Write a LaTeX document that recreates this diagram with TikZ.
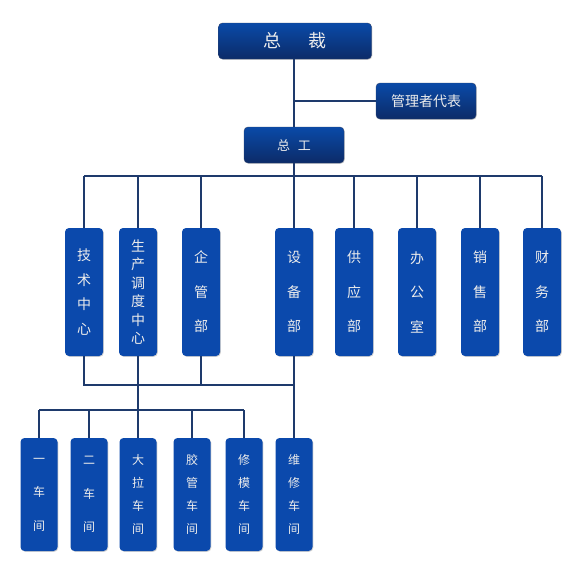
\documentclass[tikz,border=0pt]{standalone}
\usepackage{fontspec}
\newfontfamily\cjk{Noto Sans CJK SC}
\usepackage{tikz}
\usetikzlibrary{positioning,calc,shadows}
\definecolor{boxblue}{HTML}{0B49AC}
\definecolor{topblue}{HTML}{0A4AA8}
\definecolor{botblue}{HTML}{0C2B68}
\definecolor{linkcol}{HTML}{1E3A6C}
\definecolor{txtcol}{HTML}{ECECEC}
\tikzset{
  basebox/.style={rounded corners=4pt,inner sep=0pt,text=txtcol,
    drop shadow={shadow xshift=0.8pt,shadow yshift=-0.8pt,opacity=0.35,fill=gray}},
  headbox/.style={basebox,top color=topblue,bottom color=botblue,draw=botblue!70!gray,line width=0.4pt},
  deptbox/.style={basebox,fill=boxblue,minimum width=38pt,minimum height=128pt,align=center},
  shopbox/.style={basebox,fill=boxblue,minimum width=37pt,minimum height=113pt,align=center},
  vtext/.style={font=\cjk\fontsize{14}{#1}\selectfont},
  stext/.style={font=\cjk\fontsize{12}{#1}\selectfont},
  link/.style={draw=linkcol,line width=1.2pt},
}

\begin{document}
\begin{tikzpicture}[x=1pt,y=-1pt]
\useasboundingbox (0,0) rectangle (581,573);

% top level
\node[headbox,minimum width=153pt,minimum height=36pt,font=\cjk\fontsize{18}{20}\selectfont] (zc) at (295,41) {总\hspace{1.5em}裁};
\node[headbox,minimum width=100pt,minimum height=36pt,font=\cjk\fontsize{14}{16}\selectfont] (glz) at (426,101) {管理者代表};
\node[headbox,minimum width=100pt,minimum height=36pt,font=\cjk\fontsize{13}{15}\selectfont] (zg) at (294,145) {总\hspace{0.6em}工};

% departments
\node[deptbox,vtext=24.5] (jszx) at (84,292) {技\\术\\中\\心};
\node[deptbox,vtext=18.4] (sctd) at (138,292) {生\\产\\调\\度\\中\\心};
\node[deptbox,vtext=34.5] (qgb) at (201,292) {企\\管\\部};
\node[deptbox,vtext=34.5] (sbb) at (294,292) {设\\备\\部};
\node[deptbox,vtext=34.5] (gyb) at (354,292) {供\\应\\部};
\node[deptbox,vtext=34.5] (bgs) at (417,292) {办\\公\\室};
\node[deptbox,vtext=34.5] (xsb) at (480,292) {销\\售\\部};
\node[deptbox,vtext=34.5] (cwb) at (542,292) {财\\务\\部};

% workshops
\node[shopbox,stext=33.5] (cj1) at (39,494.5) {一\\车\\间};
\node[shopbox,stext=33.5] (cj2) at (89,494.5) {二\\车\\间};
\node[shopbox,stext=23] (dlcj) at (138,494.5) {大\\拉\\车\\间};
\node[shopbox,stext=23] (jgcj) at (192,494.5) {胶\\管\\车\\间};
\node[shopbox,stext=23] (xmcj) at (244,494.5) {修\\模\\车\\间};
\node[shopbox,stext=23] (wxcj) at (294,494.5) {维\\修\\车\\间};

\coordinate (bus) at (0,176);
\coordinate (mid) at (0,385);
\coordinate (low) at (0,410);

% connectors
\path[link] (zg.north) -- (zg.north |- zc.south);
\path[link] (glz.west) -- (glz.west -| zg.north);
\path[link] (zg.south) -- (zg.south |- bus);
\path[link] (jszx.north |- bus) -- (cwb.north |- bus);
\foreach \d in {jszx,sctd,qgb,sbb,gyb,bgs,xsb,cwb}
  \path[link] (\d.north) -- (\d.north |- bus);
\path[link] (jszx.south) -- (jszx.south |- mid) -- (sbb.south |- mid);
\path[link] (sctd.south) -- (sctd.south |- mid);
\path[link] (qgb.south) -- (qgb.south |- mid);
\path[link] (sbb.south) -- (wxcj.north);
\path[link] (sctd.south |- mid) -- (dlcj.north);
\path[link] (cj1.north |- low) -- (xmcj.north |- low);
\foreach \w in {cj1,cj2,jgcj,xmcj}
  \path[link] (\w.north) -- (\w.north |- low);
\end{tikzpicture}
\end{document}
